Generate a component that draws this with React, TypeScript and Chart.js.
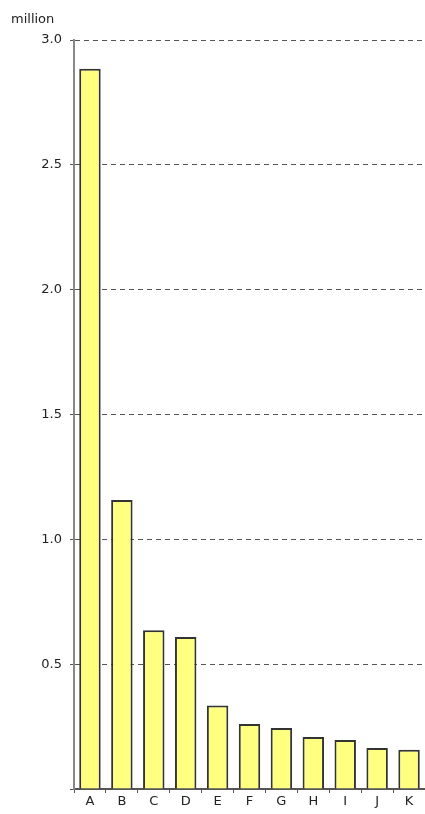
import React, { useEffect, useRef } from "react";
import { Chart, registerables } from "chart.js";

Chart.register(...registerables);

const categories = ["A", "B", "C", "D", "E", "F", "G", "H", "I", "J", "K"];
const values = [2.885, 1.158, 0.636, 0.609, 0.334, 0.26, 0.244, 0.208, 0.196, 0.164, 0.157];
const yTicks = [0, 0.5, 1.0, 1.5, 2.0, 2.5, 3.0];
const unitLabel = "million";

const FONT = "'DejaVu Sans', Verdana, sans-serif";

const unitPlugin = {
  id: "unitLabel",
  afterDraw(chart: any) {
    const ctx = chart.ctx;
    ctx.save();
    ctx.font = `13px ${FONT}`;
    ctx.fillStyle = "#222";
    ctx.textAlign = "left";
    ctx.textBaseline = "alphabetic";
    ctx.fillText(unitLabel, 11, 23);
    ctx.restore();
  },
};

export default function App() {
  const ref = useRef<HTMLCanvasElement>(null);
  useEffect(() => {
    if (!ref.current) return;
    const chart = new Chart(ref.current, {
      type: "bar",
      data: {
        labels: categories,
        datasets: [
          {
            data: values,
            backgroundColor: "#ffff80",
            borderColor: "#333333",
            borderWidth: 2,
            barPercentage: 0.84,
            categoryPercentage: 0.8,
          },
        ],
      },
      plugins: [unitPlugin],
      options: {
        responsive: false,
        animation: false,
        layout: { padding: { top: 40, right: 0, left: 0, bottom: 0 } },
        plugins: { legend: { display: false }, tooltip: { enabled: false } },
        scales: {
          x: {
            afterFit: (s: any) => {
              s.height = 25;
            },
            border: { display: true, color: "#555", width: 2 },
            grid: {
              offset: true,
              drawOnChartArea: false,
              drawTicks: true,
              tickLength: 4,
              color: "#555",
            },
            ticks: { color: "#222", font: { family: FONT, size: 13 }, padding: 1 },
          },
          y: {
            min: 0,
            max: 3,
            afterFit: (s: any) => {
              s.width = 74;
            },
            afterBuildTicks: (s: any) => {
              s.ticks = yTicks.map((v) => ({ value: v }));
            },
            border: { display: true, color: "#888", width: 2, dash: [5, 4] },
            grid: {
              color: (c: any) => (c.tick && c.tick.value === 0 ? "rgba(0,0,0,0)" : "#555"),
              tickBorderDash: [],
              tickColor: "#555",
              tickLength: 4,
              lineWidth: 1,
            },
            ticks: {
              color: "#222",
              font: { family: FONT, size: 13 },
              padding: 8,
              callback: (v: any) => (v === 0 ? "" : Number(v).toFixed(1)),
            },
          },
        },
      },
    });
    return () => chart.destroy();
  }, []);
  return (
    <div style={{ position: "fixed", left: 0, top: 0, width: 425, height: 814, background: "#fff" }}>
      <canvas ref={ref} width={425} height={814} />
    </div>
  );
}
